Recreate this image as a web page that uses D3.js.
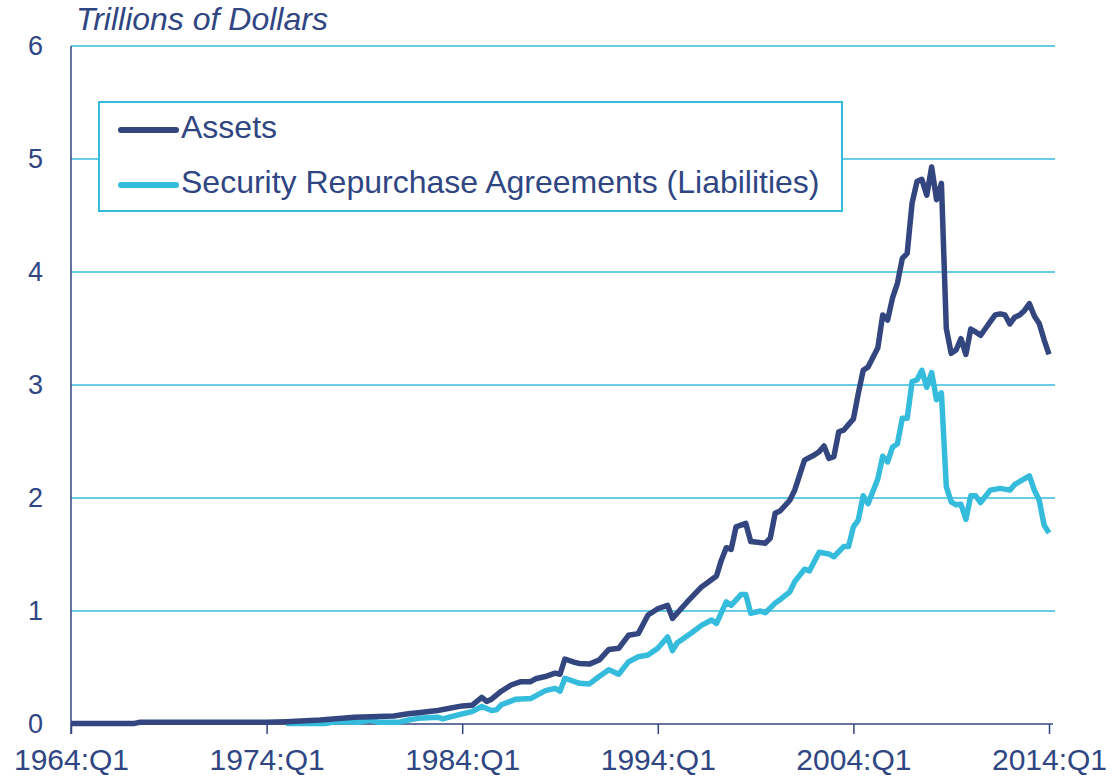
<!DOCTYPE html>
<html lang="en">
<head>
    <meta charset="UTF-8">
    <title>Assets and Repurchase Agreements</title>
    <script src="https://d3js.org/d3.v7.min.js"></script>
    <style>
        html, body { margin: 0; padding: 0; background: #fff; }
        body { font-family: 'Liberation Sans', Arial, sans-serif; }
        text { fill: #2f4683; }
    </style>
</head>
<body>
<div id="chart"></div>
<script>
    // quarters and values (trillions of dollars)
    const assetsQuarters = [
        "1964:Q1", "1967:Q2", "1967:Q3", "1974:Q1", "1975:Q1", "1976:Q4", "1978:Q3", "1980:Q3",
        "1981:Q2", "1981:Q4", "1982:Q4", "1984:Q1", "1984:Q3", "1985:Q1", "1985:Q2", "1985:Q3",
        "1986:Q1", "1986:Q3", "1987:Q1", "1987:Q3", "1987:Q4", "1988:Q2", "1988:Q4", "1989:Q1",
        "1989:Q2", "1989:Q4", "1990:Q1", "1990:Q3", "1991:Q1", "1991:Q3", "1992:Q1", "1992:Q3",
        "1993:Q1", "1993:Q3", "1994:Q1", "1994:Q3", "1994:Q4", "1995:Q3", "1996:Q2", "1996:Q3",
        "1997:Q1", "1997:Q2", "1997:Q3", "1997:Q4", "1998:Q1", "1998:Q3", "1998:Q4", "1999:Q3",
        "1999:Q4", "2000:Q1", "2000:Q2", "2000:Q4", "2001:Q1", "2001:Q3", "2002:Q1", "2002:Q2",
        "2002:Q3", "2002:Q4", "2003:Q1", "2003:Q2", "2003:Q3", "2004:Q1", "2004:Q2", "2004:Q3",
        "2004:Q4", "2005:Q2", "2005:Q3", "2005:Q4", "2006:Q1", "2006:Q2", "2006:Q3", "2006:Q4",
        "2007:Q1", "2007:Q2", "2007:Q3", "2007:Q4", "2008:Q1", "2008:Q2", "2008:Q3", "2008:Q4",
        "2009:Q1", "2009:Q2", "2009:Q3", "2009:Q4", "2010:Q1", "2010:Q2", "2010:Q3", "2010:Q4",
        "2011:Q1", "2011:Q2", "2011:Q3", "2011:Q4", "2012:Q1", "2012:Q2", "2012:Q3", "2012:Q4",
        "2013:Q1", "2013:Q2", "2013:Q3", "2013:Q4", "2014:Q1"
    ];
    const assetsValues = [
        0.005, 0.005, 0.015, 0.015, 0.02, 0.035, 0.06, 0.07,
        0.09, 0.10, 0.12, 0.16, 0.165, 0.235, 0.20, 0.22,
        0.29, 0.345, 0.375, 0.375, 0.40, 0.42, 0.45, 0.44,
        0.575, 0.545, 0.535, 0.53, 0.566, 0.66, 0.67, 0.785,
        0.80, 0.965, 1.02, 1.05, 0.935, 1.08, 1.215, 1.245,
        1.31, 1.45, 1.56, 1.545, 1.745, 1.775, 1.615, 1.60,
        1.645, 1.865, 1.885, 1.98, 2.07, 2.335, 2.38, 2.41,
        2.46, 2.35, 2.365, 2.585, 2.60, 2.70, 2.925, 3.13,
        3.16, 3.33, 3.62, 3.575, 3.77, 3.90, 4.12, 4.165,
        4.61, 4.80, 4.82, 4.68, 4.93, 4.64, 4.785, 3.50,
        3.28, 3.31, 3.41, 3.27, 3.495, 3.47, 3.44, 3.50,
        3.56, 3.62, 3.63, 3.62, 3.54, 3.60, 3.62, 3.66,
        3.72, 3.61, 3.545, 3.40, 3.27
    ];

    const repoQuarters = [
        "1975:Q1", "1977:Q1", "1977:Q3", "1978:Q4", "1979:Q2", "1979:Q4", "1980:Q4", "1981:Q2",
        "1981:Q4", "1982:Q4", "1983:Q1", "1984:Q1", "1984:Q3", "1985:Q1", "1985:Q3", "1985:Q4",
        "1986:Q1", "1986:Q4", "1987:Q3", "1988:Q2", "1988:Q4", "1989:Q1", "1989:Q2", "1990:Q1",
        "1990:Q3", "1991:Q1", "1991:Q3", "1992:Q1", "1992:Q3", "1993:Q1", "1993:Q3", "1994:Q1",
        "1994:Q3", "1994:Q4", "1995:Q1", "1995:Q4", "1996:Q2", "1996:Q4", "1997:Q1", "1997:Q3",
        "1997:Q4", "1998:Q2", "1998:Q3", "1998:Q4", "1999:Q2", "1999:Q3", "2000:Q1", "2000:Q2",
        "2000:Q4", "2001:Q1", "2001:Q3", "2001:Q4", "2002:Q2", "2002:Q4", "2003:Q1", "2003:Q3",
        "2003:Q4", "2004:Q1", "2004:Q2", "2004:Q3", "2004:Q4", "2005:Q2", "2005:Q3", "2005:Q4",
        "2006:Q1", "2006:Q2", "2006:Q3", "2006:Q4", "2007:Q1", "2007:Q2", "2007:Q3", "2007:Q4",
        "2008:Q1", "2008:Q2", "2008:Q3", "2008:Q4", "2009:Q1", "2009:Q2", "2009:Q3", "2009:Q4",
        "2010:Q1", "2010:Q2", "2010:Q3", "2011:Q1", "2011:Q3", "2012:Q1", "2012:Q2", "2013:Q1",
        "2013:Q2", "2013:Q3", "2013:Q4", "2014:Q1"
    ];
    const repoValues = [
        0.005, 0.005, 0.02, 0.015, 0.035, 0.015, 0.015, 0.035,
        0.05, 0.06, 0.045, 0.09, 0.11, 0.155, 0.12, 0.125,
        0.17, 0.22, 0.225, 0.295, 0.315, 0.29, 0.405, 0.36,
        0.355, 0.42, 0.48, 0.44, 0.55, 0.595, 0.61, 0.67,
        0.77, 0.65, 0.72, 0.81, 0.875, 0.92, 0.89, 1.08,
        1.05, 1.145, 1.145, 0.98, 1.0, 0.985, 1.07, 1.10,
        1.17, 1.26, 1.37, 1.355, 1.52, 1.505, 1.48, 1.57,
        1.57, 1.745, 1.805, 2.02, 1.95, 2.17, 2.37, 2.32,
        2.45, 2.48, 2.705, 2.705, 3.03, 3.045, 3.13, 2.98,
        3.11, 2.87, 2.93, 2.10, 1.965, 1.94, 1.945, 1.81,
        2.02, 2.02, 1.96, 2.07, 2.085, 2.07, 2.12, 2.195,
        2.07, 1.98, 1.76, 1.69
    ];

    const xTickLabels = ["1964:Q1", "1974:Q1", "1984:Q1", "1994:Q1", "2004:Q1", "2014:Q1"];
    const yTicks = [0, 1, 2, 3, 4, 5, 6];
    const seriesNames = ["Assets", "Security Repurchase Agreements (Liabilities)"];
    const yTitle = "Trillions of Dollars";

    const navy = "#33467f";
    const cyan = "#35bcdc";

    // "1964:Q1" -> quarter index from start
    function qIndex(label) {
        const [y, q] = label.split(":Q");
        return (+y - 1964) * 4 + (+q - 1);
    }

    const width = 1114, height = 778;
    const margin = { top: 46, right: 65, bottom: 54, left: 71 };

    const x = d3.scaleLinear().domain([0, 200]).range([margin.left, width - margin.right]);
    const y = d3.scaleLinear().domain([0, 6]).range([height - margin.bottom, margin.top]);

    const svg = d3.select('#chart').append('svg')
        .attr('width', width)
        .attr('height', height);

    // gridlines
    svg.append('g')
        .selectAll('line')
        .data(yTicks.filter(d => d > 0))
        .enter()
        .append('line')
        .attr('x1', margin.left)
        .attr('x2', width - margin.right + 6)
        .attr('y1', d => y(d))
        .attr('y2', d => y(d))
        .attr('stroke', cyan)
        .attr('stroke-width', 1.5);

    // y axis
    const yAxis = svg.append('g')
        .attr('transform', `translate(${margin.left},0)`)
        .call(d3.axisLeft(y).tickValues(yTicks).tickSize(0).tickPadding(28).tickFormat(d3.format('d')));
    yAxis.select('.domain').remove();
    yAxis.selectAll('text')
        .style('font-size', '27px')
        .style('font-family', "'Liberation Sans', Arial, sans-serif")
        .attr('fill', '#2f4683');

    svg.append('line')
        .attr('x1', margin.left).attr('x2', margin.left)
        .attr('y1', y(6)).attr('y2', y(0) + 10)
        .attr('stroke', navy)
        .attr('stroke-width', 1.5);

    // x axis
    const xAxis = svg.append('g')
        .attr('transform', `translate(0,${y(0)})`)
        .call(d3.axisBottom(x)
            .tickValues(xTickLabels.map(qIndex))
            .tickSize(10)
            .tickPadding(15)
            .tickFormat((d, i) => xTickLabels[i]));
    xAxis.select('.domain')
        .attr('d', `M${margin.left},0H${width - margin.right + 4}`)
        .attr('stroke', navy)
        .attr('stroke-width', 1.5);
    xAxis.selectAll('.tick line').attr('stroke', navy).attr('stroke-width', 1.5);
    xAxis.selectAll('text')
        .style('font-size', '30px')
        .style('font-family', "'Liberation Sans', Arial, sans-serif")
        .attr('fill', '#2f4683');

    // axis title
    svg.append('text')
        .attr('x', 76)
        .attr('y', 30)
        .style('font-size', '32px')
        .style('font-style', 'italic')
        .text(yTitle);

    // lines
    const line = d3.line()
        .x(d => x(d.q))
        .y(d => y(d.v));

    const repoData = repoQuarters.map((q, i) => ({ q: qIndex(q), v: repoValues[i] }));
    const assetsData = assetsQuarters.map((q, i) => ({ q: qIndex(q), v: assetsValues[i] }));

    svg.append('path')
        .datum(repoData)
        .attr('fill', 'none')
        .attr('stroke', cyan)
        .attr('stroke-width', 5.5)
        .attr('stroke-linejoin', 'round')
        .attr('d', line);

    svg.append('path')
        .datum(assetsData)
        .attr('fill', 'none')
        .attr('stroke', navy)
        .attr('stroke-width', 5.5)
        .attr('stroke-linejoin', 'round')
        .attr('d', line);

    // legend
    const legend = svg.append('g').attr('class', 'legend');
    legend.append('rect')
        .attr('x', 99)
        .attr('y', 102)
        .attr('width', 743)
        .attr('height', 109)
        .attr('fill', '#fff')
        .attr('stroke', cyan)
        .attr('stroke-width', 2);

    const items = legend.selectAll('.item')
        .data(seriesNames)
        .enter()
        .append('g')
        .attr('class', 'item')
        .attr('transform', (d, i) => `translate(0,${130 + i * 55})`);

    items.append('line')
        .attr('x1', 121)
        .attr('x2', 176)
        .attr('stroke', (d, i) => i === 0 ? navy : cyan)
        .attr('stroke-width', 6)
        .attr('stroke-linecap', 'round');

    items.append('text')
        .attr('x', 181)
        .attr('y', 8)
        .style('font-size', '32px')
        .text(d => d);
</script>
</body>
</html>
